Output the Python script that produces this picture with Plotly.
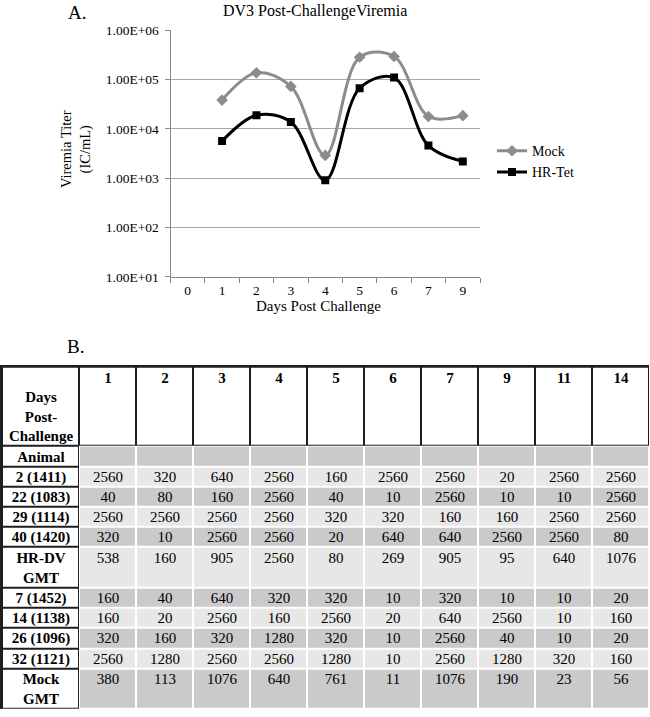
import plotly.graph_objects as go

# ---------------- Data ----------------
days = ['0', '1', '2', '3', '4', '5', '6', '7', '9']
series_days = ['1', '2', '3', '4', '5', '6', '7', '9']
mock = [3.85e4, 1.38e5, 7.3e4, 2.9e3, 2.85e5, 2.95e5, 1.79e4, 1.86e4]
hr_tet = [5.7e3, 1.9e4, 1.39e4, 9.1e2, 6.7e4, 1.1e5, 4.6e3, 2.2e3]
y_tick_vals = [1e1, 1e2, 1e3, 1e4, 1e5, 1e6]
y_tick_text = ['1.00E+01', '1.00E+02', '1.00E+03', '1.00E+04', '1.00E+05', '1.00E+06']

table_days = ['1', '2', '3', '4', '5', '6', '7', '9', '11', '14']
row_labels = ['Animal', '2 (1411)', '22 (1083)', '29 (1114)', '40 (1420)', 'HR-DV<br>GMT',
              '7 (1452)', '14 (1138)', '26 (1096)', '32 (1121)', 'Mock<br>GMT']
row_animal = ['', '', '', '', '', '', '', '', '', '']
row_2_1411 = [2560, 320, 640, 2560, 160, 2560, 2560, 20, 2560, 2560]
row_22_1083 = [40, 80, 160, 2560, 40, 10, 2560, 10, 10, 2560]
row_29_1114 = [2560, 2560, 2560, 2560, 320, 320, 160, 160, 2560, 2560]
row_40_1420 = [320, 10, 2560, 2560, 20, 640, 640, 2560, 2560, 80]
row_hrdv_gmt = [538, 160, 905, 2560, 80, 269, 905, 95, 640, 1076]
row_7_1452 = [160, 40, 640, 320, 320, 10, 320, 10, 10, 20]
row_14_1138 = [160, 20, 2560, 160, 2560, 20, 640, 2560, 10, 160]
row_26_1096 = [320, 160, 320, 1280, 320, 10, 2560, 40, 10, 20]
row_32_1121 = [2560, 1280, 2560, 2560, 1280, 10, 2560, 1280, 320, 160]
row_mock_gmt = [380, 113, 1076, 640, 761, 11, 1076, 190, 23, 56]

rows = [row_animal, row_2_1411, row_22_1083, row_29_1114, row_40_1420, row_hrdv_gmt,
        row_7_1452, row_14_1138, row_26_1096, row_32_1121, row_mock_gmt]

# ---------------- Layout helpers ----------------
W, H = 650, 717
FONT = 'Liberation Serif, Times New Roman, serif'
# observed vertical offset/scale of the captured page
V_OFF, V_SCALE = 7.6, 0.981


def px_x(x):
    return x / W


def px_y(y):
    yp = (y - V_OFF) / V_SCALE
    yp = min(max(yp, 0), H)
    return 1 - yp / H


fig = go.Figure()

fig.add_trace(go.Scatter(
    x=series_days, y=mock, name='Mock', mode='lines+markers',
    line=dict(color='#8c8c8c', width=3, shape='spline', smoothing=1.0),
    marker=dict(symbol='diamond', size=9, color='#8c8c8c'),
))
fig.add_trace(go.Scatter(
    x=series_days, y=hr_tet, name='HR-Tet', mode='lines+markers',
    line=dict(color='black', width=3, shape='spline', smoothing=1.0),
    marker=dict(symbol='square', size=8, color='black'),
))

# ---------------- Table (heatmap bricks on their own axes) ----------------
label_w, data_w = 77, 57
header_h, single_h, double_h = 79.5, 20.2, 40.6
col_widths = [label_w] + [data_w] * len(table_days)
row_heights = [header_h] + [double_h if '<br>' in lab else single_h for lab in row_labels]

x_edges = [0]
for w_ in col_widths:
    x_edges.append(x_edges[-1] + w_)
y_edges = [0]
for h_ in row_heights:
    y_edges.append(y_edges[-1] + h_)

n_rows = len(row_heights)
n_cols = len(col_widths)

text_grid = []
header_text = ['<b><br>Days<br>Post-<br>Challenge</b>'] + \
    [f'<b>{d}</b><br> <br> <br> ' for d in table_days]
text_grid.append(header_text)
for lab, vals in zip(row_labels, rows):
    two_line = '<br>' in lab
    lab_txt = '<b>' + lab.replace(' ', '\u00a0') + '</b>'
    cells = [(f'{v}<br> ' if two_line else f'{v}') if v != '' else '' for v in vals]
    text_grid.append([lab_txt] + cells)

color_grid = [[0] * n_cols]
for i in range(len(rows)):
    shade = 2 if i % 2 == 0 else 1
    color_grid.append([0] + [shade] * len(table_days))

border_grid = []
for r in range(n_rows):
    border_grid.append([1 if (r == 0 or c == 0) else None for c in range(n_cols)])

fig.add_trace(go.Heatmap(
    x=x_edges, y=y_edges, z=border_grid, xaxis='x2', yaxis='y2',
    colorscale=[[0, '#1e1e1e'], [1, '#1e1e1e']], showscale=False,
    hoverinfo='skip',
))
fig.add_trace(go.Heatmap(
    x=x_edges, y=y_edges, z=color_grid, xaxis='x2', yaxis='y2',
    zmin=0, zmax=2,
    colorscale=[[0, '#ffffff'], [0.33, '#ffffff'], [0.33, '#e7e7e7'], [0.67, '#e7e7e7'],
                [0.67, '#cacaca'], [1, '#cacaca']],
    showscale=False, xgap=2, ygap=2,
    text=text_grid, texttemplate='%{text}',
    textfont=dict(family=FONT, size=15, color='black'),
    hoverinfo='skip',
))

fig.update_layout(
    width=W, height=H, autosize=False,
    margin=dict(l=0, r=0, t=0, b=0, pad=0),
    paper_bgcolor='white', plot_bgcolor='white',
    font=dict(family=FONT, color='black'),
    showlegend=True,
    legend=dict(x=px_x(492), y=px_y(136), xanchor='left', yanchor='top',
                font=dict(family=FONT, size=14), bgcolor='rgba(0,0,0,0)'),
    xaxis=dict(
        domain=[px_x(170.5), px_x(480)],
        type='category', categoryorder='array', categoryarray=days,
        range=[-0.5, len(days) - 0.5],
        tickson='boundaries', ticks='outside', ticklen=5, tickcolor='#8a8a8a',
        showline=True, linecolor='#8a8a8a', linewidth=1,
        showgrid=False, tickfont=dict(family=FONT, size=13.5),
        ticklabelstandoff=1,
    ),
    yaxis=dict(
        domain=[px_y(278), px_y(31)],
        type='log', range=[1, 6],
        tickvals=y_tick_vals, ticktext=y_tick_text,
        ticks='outside', ticklen=5, tickcolor='#8a8a8a',
        showline=True, linecolor='#8a8a8a', linewidth=1,
        showgrid=True, gridcolor='#a8a8a8', gridwidth=1,
        tickfont=dict(family=FONT, size=13.5), zeroline=False,
        ticklabelstandoff=3,
    ),
    xaxis2=dict(
        domain=[px_x(2), px_x(649)], anchor='y2', range=[0, x_edges[-1]],
        showgrid=False, zeroline=False, showticklabels=False, ticks='',
        side='top', showline=True, linecolor='#1e1e1e', linewidth=1.5,
        fixedrange=True,
    ),
    yaxis2=dict(
        domain=[px_y(730), px_y(368)], anchor='x2', range=[y_edges[-1], 0],
        showgrid=False, zeroline=False, showticklabels=False, ticks='',
        showline=True, linecolor='#1e1e1e', linewidth=2.5,
        fixedrange=True,
    ),
    annotations=[
        dict(text='A.', x=px_x(77), y=px_y(13), xref='paper', yref='paper',
             xanchor='center', yanchor='middle',
             showarrow=False, font=dict(family=FONT, size=19)),
        dict(text='DV3 Post-ChallengeViremia', x=px_x(315), y=px_y(12), xref='paper', yref='paper',
             xanchor='center', yanchor='middle',
             showarrow=False, font=dict(family=FONT, size=16)),
        dict(text='Viremia Titer<br>(IC/mL)', x=px_x(76), y=px_y(150), xref='paper', yref='paper',
             xanchor='center', yanchor='middle',
             showarrow=False, textangle=-90, font=dict(family=FONT, size=14.5)),
        dict(text='Days Post Challenge', x=px_x(318), y=px_y(307), xref='paper', yref='paper',
             xanchor='center', yanchor='middle',
             showarrow=False, font=dict(family=FONT, size=15)),
        dict(text='B.', x=px_x(75), y=px_y(348), xref='paper', yref='paper',
             xanchor='center', yanchor='middle',
             showarrow=False, font=dict(family=FONT, size=19)),
    ],
)

post_js = (
    "var gd=document.getElementById('{plot_id}');"
    "document.documentElement.style.margin='0px';"
    "document.body.style.margin='0px';"
    "document.body.style.padding='0px';"
    "document.body.style.overflow='hidden';"
)

fig.write_html('out.html',
               config={'displayModeBar': False, 'responsive': False},
               post_script=post_js)
